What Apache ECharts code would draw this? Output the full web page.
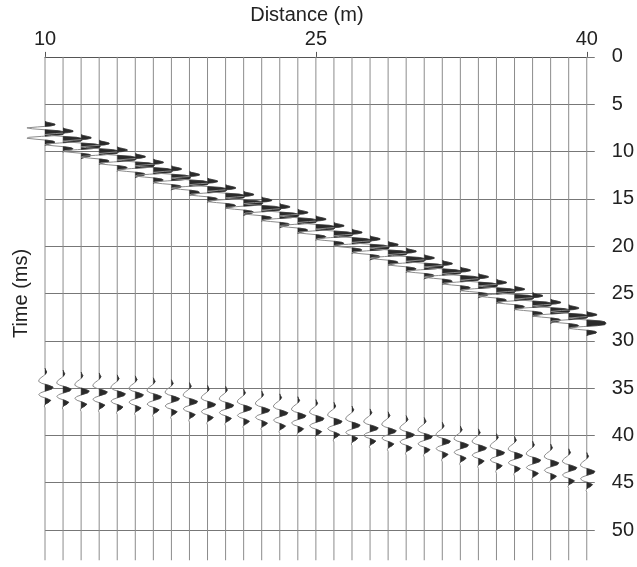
<!DOCTYPE html>
<html><head><meta charset="utf-8">
<script src="https://cdn.jsdelivr.net/npm/echarts@6/dist/echarts.min.js"></script>
<style>html,body{margin:0;padding:0;background:#fff}#c{width:637px;height:567px}</style>
</head><body><div id="c"></div>
<script>
// Trace positions (m)
const offsets = [10,11,12,13,14,15,16,17,18,19,20,21,22,23,24,25,26,27,28,29,30,31,32,33,34,35,36,37,38,39,40];
// Direct-wave arrival (main positive lobe), ms
const directTimes = [8.1,8.8,9.5,10.1,10.8,11.5,12.1,12.8,13.4,14.1,14.8,15.5,16.1,16.8,17.4,18.1,18.8,19.5,20.2,20.8,21.5,22.2,22.8,23.5,24.2,24.8,25.5,26.2,26.9,27.5,28.2];
// Reflection arrival (main positive lobe), ms
const reflectTimes = [34.9,35.1,35.3,35.4,35.6,35.7,35.9,36.1,36.4,36.7,36.8,37.1,37.3,37.6,37.9,38.2,38.5,38.9,39.2,39.5,39.9,40.1,40.6,41.0,41.3,41.8,42.1,42.6,42.9,43.4,43.8];
// Direct-wave wavelet (time offset ms, deflection in trace spacings)
const directDt  = [-1.3,-1.2,-1.1,-1.0,-0.9,-0.8,-0.7,-0.6,-0.5,-0.4,-0.3,-0.2,-0.1,0.0,0.1,0.2,0.3,0.4,0.5,0.6,0.7,0.8,0.9,1.0,1.1,1.2,1.3];
const directAmp = [0,0.1,0.35,0.55,0.55,0.3,-0.4,-1.0,-0.7,0.0,0.75,1.0,1.05,1.05,1.0,0.6,-0.2,-0.9,-1.0,-0.5,0.1,0.45,0.55,0.5,0.25,0.05,0];
// Reflection wavelet
const reflDt  = [-2.0,-1.8,-1.6,-1.4,-1.2,-1.0,-0.8,-0.6,-0.4,-0.2,0.0,0.2,0.4,0.6,0.8,1.0,1.2,1.4,1.6,1.8,2.0,2.2];
const reflAmp = [0,0.04,0.1,0.04,-0.08,-0.22,-0.33,-0.35,-0.18,0.2,0.45,0.38,0.05,-0.25,-0.35,-0.22,0.1,0.32,0.22,0.02,-0.04,0];
// Axes
const xTickValues = [10,25,40];
const timeStart = 0, timeEnd = 53.2;

const data = offsets.map((x,i)=>[x, directTimes[i], reflectTimes[i]]);

function renderItem(params, api) {
  const x = api.value(0), td = api.value(1), tr = api.value(2);
  const pts = [api.coord([x, timeStart])];
  const fills = [];
  function addWavelet(t0, dts, amps) {
    let poly = null;
    for (let k = 0; k < dts.length; k++) {
      const t = t0 + dts[k], a = amps[k];
      pts.push(api.coord([x + a, t]));
      if (k > 0) {
        const a0 = amps[k-1], tp = t0 + dts[k-1];
        if ((a0 > 0) !== (a > 0)) {
          const tc = tp + (t - tp) * (a0 / (a0 - a));
          if (a0 > 0) { if (poly) { poly.push(api.coord([x, tc])); fills.push(poly); } poly = null; }
          else { poly = [api.coord([x, tc])]; }
        }
      } else if (a > 0) { poly = [api.coord([x, t])]; }
      if (a > 0 && poly) poly.push(api.coord([x + a, t]));
    }
    if (poly) { poly.push(api.coord([x, t0 + dts[dts.length-1]])); fills.push(poly); }
  }
  addWavelet(td, directDt, directAmp);
  addWavelet(tr, reflDt, reflAmp);
  pts.push(api.coord([x, timeEnd]));
  const children = [{
    type: 'polyline', shape: { points: pts },
    style: { stroke: '#8c8c8c', lineWidth: 1, fill: 'none' }
  }];
  fills.forEach(p => children.push({ type: 'polygon', shape: { points: p }, style: { fill: '#2a2a2a', stroke: '#2a2a2a', lineWidth: 0.5 } }));
  return { type: 'group', children };
}

const chart = echarts.init(document.getElementById('c'), null, { renderer: 'canvas' });
const font = "'Liberation Sans', Arial, Helvetica, sans-serif";
chart.setOption({
  animation: false,
  backgroundColor: '#fff',
  grid: { left: 45, right: 50, top: 53, bottom: 37 },
  xAxis: {
    type: 'value', position: 'top', min: 10, max: 40,
    name: 'Distance (m)', nameLocation: 'middle', nameGap: 28,
    nameTextStyle: { fontSize: 20, color: '#222', fontFamily: font, padding: [0, 18, 0, 0] },
    axisLine: { show: true, lineStyle: { color: '#555', width: 1 } },
    axisTick: { show: true, length: 5, customValues: xTickValues, lineStyle: { color: '#555' } },
    axisLabel: { fontSize: 20, color: '#222', fontFamily: font, margin: 7, customValues: xTickValues },
    splitLine: { show: false }
  },
  yAxis: [{
    type: 'value', position: 'right', inverse: true, min: 0, max: 50, interval: 5,
    axisLine: { show: false },
    axisTick: { show: true, length: 8, lineStyle: { color: '#777' } },
    axisLabel: { fontSize: 20, color: '#222', fontFamily: font, margin: 25, align: 'left' },
    splitLine: { show: true, lineStyle: { color: '#777', width: 1 } }
  }, {
    type: 'value', position: 'left', inverse: true, min: 0, max: 50,
    name: 'Time (ms)', nameLocation: 'middle', nameGap: 14, nameRotate: 90,
    nameTextStyle: { fontSize: 20, color: '#222', fontFamily: font },
    axisLine: { show: false }, axisTick: { show: false }, axisLabel: { show: false }, splitLine: { show: false }
  }],
  series: [{
    type: 'custom', coordinateSystem: 'cartesian2d', yAxisIndex: 0,
    clip: false, renderItem, data, encode: { x: 0, y: 1 }, silent: true
  }]
});
</script></body></html>
